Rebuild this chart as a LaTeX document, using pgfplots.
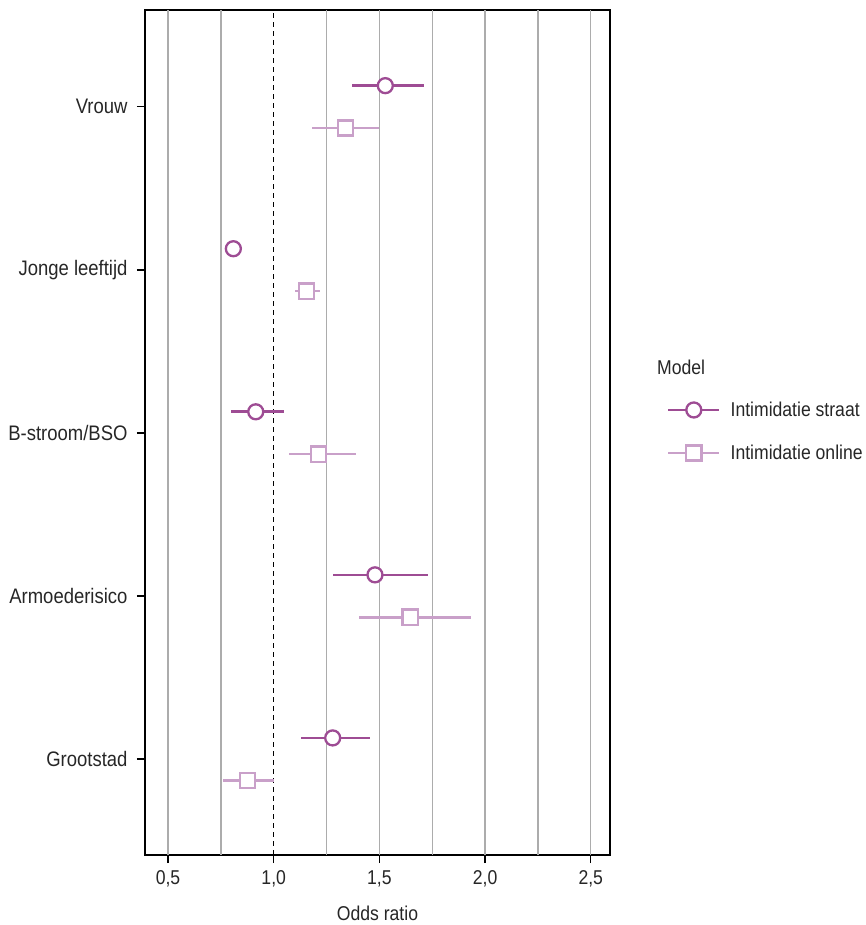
\documentclass[border=0pt]{standalone}
\usepackage{fontspec}
\setmainfont[FakeStretch=0.88]{Liberation Sans}
\usepackage{pgfplots}
\usepackage{pgfplotstable}
\pgfplotsset{compat=1.18}
\definecolor{straat}{RGB}{158,76,148}
\definecolor{online}{RGB}{201,160,201}
\definecolor{gridgray}{RGB}{172,172,172}

% y: category position (1 = Grootstad ... 5 = Vrouw), or: odds ratio, lo/hi: CI
\pgfplotstableread{
y     or     lo     hi
5.13  1.528  1.371  1.711
4.13  0.809  0.770  0.850
3.13  0.915  0.797  1.050
2.13  1.479  1.282  1.732
1.13  1.279  1.128  1.456
}\straattab
\pgfplotstableread{
y     or     lo     hi
4.87  1.339  1.181  1.498
3.87  1.156  1.101  1.218
2.87  1.211  1.072  1.388
1.87  1.645  1.405  1.932
0.87  0.877  0.762  1.001
}\onlinetab

\begin{document}
\begin{tikzpicture}[font=\fontsize{20bp}{24bp}\selectfont]
\begin{axis}[
  name=ax,
  scale only axis,
  width=465bp, height=845bp,
  xmin=0.391, xmax=2.591,
  ymin=0.412, ymax=5.594,
  clip=false,
  axis line style={black, line width=1.3bp},
  xtick={0.5,1,1.5,2,2.5},
  ytick={1,2,3,4,5},
  yticklabels={Grootstad,Armoederisico,B-stroom/BSO,Jonge leeftijd,Vrouw},
  tick align=outside,
  major tick length=8bp,
  tick style={black, line width=1.3bp},
  xtick pos=bottom, ytick pos=left,
  xticklabel style={yshift=-4bp, text=black!85},
  yticklabel style={xshift=-6bp, text=black!85, font=\fontsize{21bp}{25bp}\selectfont},
  /pgf/number format/assume math mode=true,
  /pgf/number format/.cd, use comma, fixed, fixed zerofill, precision=1,
  /pgfplots/.cd,
  xlabel={Odds ratio},
  xlabel style={yshift=-12bp, text=black!85},
  legend style={draw=none, fill=none, at={(rel axis cs:1.1226,0.5012)}, anchor=west,
    inner sep=0pt, outer sep=0pt, row sep=27bp, column sep=10bp,
    nodes={inner sep=0pt, text=black!85}},
  legend cell align=left,
  legend image code/.code={\draw[mark repeat=2,mark phase=2,#1] plot coordinates {(0bp,0bp) (25.5bp,0bp) (51bp,0bp)};},
]
% grid lines
\pgfplotsinvokeforeach{0.5,0.75,1.25,1.5,1.75,2,2.25,2.5}{
  \draw[gridgray, line width=1.4bp] (axis cs:#1,0.412) -- (axis cs:#1,5.594);
}
\draw[black, line width=1.1bp, dash pattern=on 5bp off 4bp] (axis cs:1,0.412) -- (axis cs:1,5.594);

% error bars
\addplot[forget plot, only marks, mark=none, error bars/.cd, x dir=both, x explicit,
  error mark=none, error bar style={straat, line width=2.6bp}]
  table[x=or, y=y, x error plus expr=\thisrow{hi}-\thisrow{or}, x error minus expr=\thisrow{or}-\thisrow{lo}] {\straattab};
\addplot[forget plot, only marks, mark=none, error bars/.cd, x dir=both, x explicit,
  error mark=none, error bar style={online, line width=2.6bp}]
  table[x=or, y=y, x error plus expr=\thisrow{hi}-\thisrow{or}, x error minus expr=\thisrow{or}-\thisrow{lo}] {\onlinetab};
% points
\addplot[forget plot, only marks, mark=*, mark size=7.5bp, mark options={draw=straat, fill=white, line width=2.3bp}]
  table[x=or, y=y] {\straattab};
\addplot[forget plot, only marks, mark=square*, mark size=7.6bp, mark options={draw=online, fill=white, line width=2.3bp}]
  table[x=or, y=y] {\onlinetab};

% legend
\addlegendimage{straat, line width=2.6bp, mark=*, mark size=7.5bp, mark options={draw=straat, fill=white, line width=2.3bp}}
\addlegendentry{Intimidatie straat}
\addlegendimage{online, line width=2.6bp, mark=square*, mark size=7.6bp, mark options={draw=online, fill=white, line width=2.3bp}}
\addlegendentry{Intimidatie online}

\node[anchor=west, inner sep=0pt, text=black!85] at (rel axis cs:1.101,0.5775) {Model};
\end{axis}
\pgfresetboundingbox
\path[use as bounding box] ([xshift=-145bp,yshift=-70bp]ax.south west) rectangle ([xshift=256bp,yshift=10bp]ax.north east);
\end{tikzpicture}
\end{document}
